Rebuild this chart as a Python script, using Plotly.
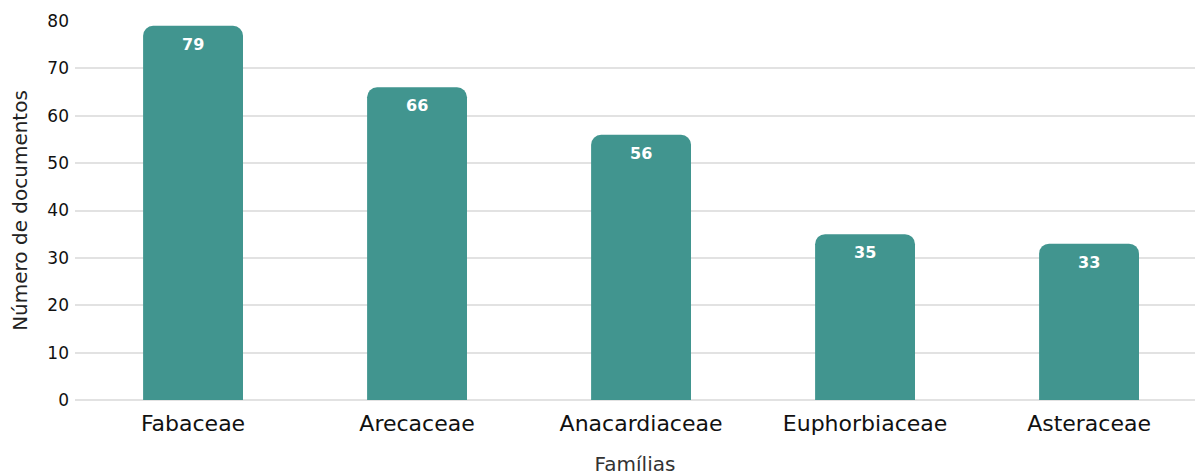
import plotly.graph_objects as go

familias = ["Fabaceae", "Arecaceae", "Anacardiaceae", "Euphorbiaceae", "Asteraceae"]
documentos = [79, 66, 56, 35, 33]
y_ticks = [0, 10, 20, 30, 40, 50, 60, 70, 80]

FONT = "DejaVu Sans, Verdana, sans-serif"

fig = go.Figure(go.Bar(
    x=familias,
    y=documentos,
    width=0.446,
    marker=dict(color="#41958f", cornerradius=10, line=dict(width=0)),
    cliponaxis=False,
    hoverinfo="x+y",
))

for fam, val in zip(familias, documentos):
    fig.add_annotation(
        x=fam, y=val, text=str(val), showarrow=False,
        yanchor="top", yshift=-7,
        font=dict(family=FONT, size=16, color="white", weight="bold"),
    )

fig.update_layout(
    width=1195, height=476,
    margin=dict(l=75, r=0, t=21, b=76),
    plot_bgcolor="white", paper_bgcolor="white",
    showlegend=False,
    font=dict(family=FONT, color="#1a1a1a"),
)
fig.update_xaxes(
    range=[-0.527, 4.473],
    tickfont=dict(family=FONT, size=22, color="#111111"),
    title=dict(text="Famílias", font=dict(family=FONT, size=20, color="#333333"), standoff=22),
    showgrid=False, zeroline=False, showline=False, ticks="",
    ticklabelstandoff=8,
)
fig.update_yaxes(
    range=[0, 80],
    tickvals=y_ticks,
    tickfont=dict(family=FONT, size=17, color="#111111"),
    title=dict(text="Número de documentos", font=dict(family=FONT, size=20, color="#222222"), standoff=14),
    showgrid=True, gridcolor="#e2e2e2", gridwidth=1.5,
    zeroline=True, zerolinecolor="#e2e2e2", zerolinewidth=1.5,
    showline=False, ticks="", ticklabelstandoff=5,
)

fig.write_html("out.html")
